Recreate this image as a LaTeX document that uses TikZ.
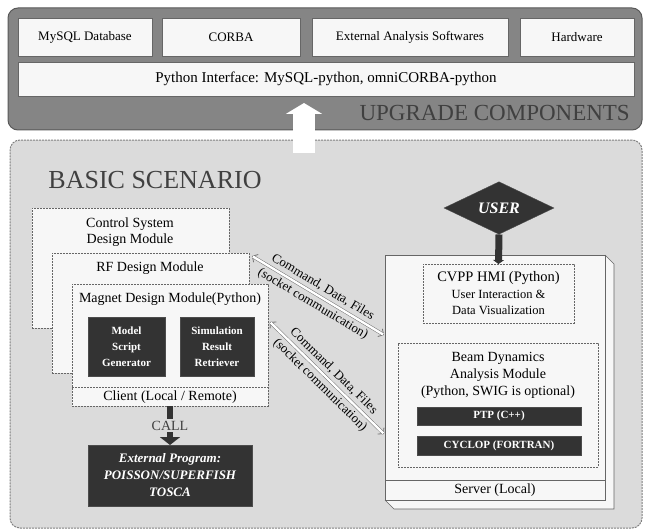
\documentclass[tikz,border=0pt]{standalone}
\usepackage{fontspec}
\setmainfont{Liberation Serif}
\usetikzlibrary{shapes.geometric,arrows.meta,calc}

\definecolor{panelDark}{gray}{0.52}
\definecolor{panelLight}{gray}{0.86}
\definecolor{boxWhite}{gray}{0.97}
\definecolor{boxDark}{gray}{0.2}

\begin{document}
\begin{tikzpicture}[x=1pt, y=-1pt,
	panel/.style={draw=black!65, line width=1pt, rounded corners=10pt, outer sep=0pt, inner sep=0pt},
	whitebox/.style={draw=black!60, line width=0.6pt, fill=boxWhite, outer sep=0pt, inner sep=2pt, align=center, font=\fontsize{13}{15}\selectfont},
	modbox/.style={whitebox, dash pattern=on 2pt off 1pt},
	darkbox/.style={fill=boxDark, draw=black!70, text=white, align=center, outer sep=0pt, inner sep=1pt, font=\bfseries\fontsize{11}{12}\selectfont},
	txt/.style={inner sep=0pt, align=center, font=\fontsize{14}{16}\selectfont},
	bigarrow/.style={draw=white, line width=22pt, -{Triangle[length=11pt, width=36pt]}},
	thickarrow/.style={draw=boxDark, line width=6pt, -{Triangle[length=8pt, width=20pt]}},
	link/.style={draw=black!55, line width=3.4pt,
		{Straight Barb[length=4pt, width=9pt, line width=0.8pt]}-{Straight Barb[length=4pt, width=9pt, line width=0.8pt]},
		postaction={draw=white, line width=2.4pt, -, shorten <=1pt, shorten >=1pt}},
	linklabel/.style={sloped, inner sep=2.5pt, font=\fontsize{13}{14}\selectfont}
]

	\useasboundingbox (0,0) rectangle (650,532);

	% upgrade components
	\node[panel, fill=panelDark, minimum width=634, minimum height=122] (upgrade) at (325,69) {};

	\node[whitebox, minimum width=134, minimum height=38] (mysql) at (85,37) {MySQL Database};
	\node[whitebox, minimum width=138, minimum height=38] (corba) at (231,37) {CORBA};
	\node[whitebox, minimum width=196, minimum height=38] (extsoft) at (410,37) {External Analysis Softwares};
	\node[whitebox, minimum width=114, minimum height=38] (hardware) at (577,37) {Hardware};
	\node[whitebox, minimum width=616, minimum height=34, font=\fontsize{15}{17}\selectfont] (pyif) at (326,79) {Python Interface: MySQL-python, omniCORBA-python};

	\node[anchor=east, inner sep=0pt, text=black!75, font=\fontsize{23}{26}\selectfont] (upgradetitle) at (630,113) {UPGRADE COMPONENTS};

	% basic scenario
	\node[panel, fill=panelLight, draw=black!50, dash pattern=on 2pt off 1pt, minimum width=632, minimum height=388] (basic) at (326,334) {};

	\node[inner sep=0pt, text=black!75, font=\fontsize{26}{28}\selectfont] (basictitle) at (155,180) {BASIC SCENARIO};

	\coordinate (upfoot) at (304,153);
	\coordinate (uptip) at (304,103);
	\draw[bigarrow] (upfoot) -- (uptip);

	% client side
	\node[modbox, minimum width=197, minimum height=120] (control) at (130.5,268) {};
	\node[txt] (controltxt) at (130,232) {Control System\\Design Module};

	\node[modbox, minimum width=197, minimum height=120] (rf) at (150.5,313) {};
	\node[txt] (rftxt) at (150,268) {RF Design Module};

	\node[modbox, minimum width=196, minimum height=122] (magnet) at (170,345) {};
	\node[txt] (magnettxt) at (170,299) {Magnet Design Module(Python)};
	\draw[draw=black!60, line width=0.6pt, dash pattern=on 2pt off 1pt] ($(magnet.south west)+(0,-19)$) -- ($(magnet.south east)+(0,-19)$);
	\node[txt] (clienttxt) at (170,397) {Client (Local / Remote)};

	\node[darkbox, minimum width=77, minimum height=59, font=\bfseries\fontsize{11}{16}\selectfont] (model) at (126.5,346.5) {Model\\Script\\Generator};
	\node[darkbox, minimum width=74, minimum height=59, font=\bfseries\fontsize{11}{16}\selectfont] (simres) at (217,346.5) {Simulation\\Result\\Retriever};

	\node[darkbox, minimum width=164, minimum height=61, font=\bfseries\itshape\fontsize{13}{17}\selectfont] (extprog) at (170,475.5) {External Program:\\POISSON/SUPERFISH\\TOSCA};

	\draw[thickarrow] (magnet.south) -- (extprog.north) node[midway, fill=panelLight, inner sep=1.5pt, text=black!75, font=\fontsize{14}{16}\selectfont] (call) {CALL};

	% server side
	\node[diamond, fill=boxDark, draw=black!70, inner sep=0pt, minimum width=110, minimum height=50, text=white, font=\bfseries\itshape\fontsize{16}{18}\selectfont] (user) at (499,208) {USER};

	\node[whitebox, minimum width=220, minimum height=245] (server) at (495,377.5) {};
	\draw[draw=black!60, line width=0.6pt, fill=boxWhite] (server.north east) -- ++(9,9) |- ($(server.south west)+(9,9)$) -- (server.south west);
	\node[whitebox, minimum width=220, minimum height=245] (serverfront) at (495,377.5) {};
	\draw[draw=black!60, line width=0.6pt] ($(serverfront.south west)+(0,-20)$) -- ($(serverfront.south east)+(0,-20)$);
	\node[txt] (servertxt) at (495,490) {Server (Local)};

	\node[modbox, minimum width=151, minimum height=59, font=\fontsize{12.5}{16.5}\selectfont] (cvpp) at (498.5,293.5) {{\fontsize{14.5}{16}\selectfont CVPP HMI (Python)}\\User Interaction \&\\Data Visualization};

	\draw[thickarrow, line width=7pt, -{Triangle[length=4pt, width=11pt]}] (user.south) -- (cvpp.north);

	\node[modbox, minimum width=200, minimum height=124] (beam) at (498,405) {};
	\node[txt, font=\fontsize{14}{17}\selectfont] (beamtxt) at (498,375) {Beam Dynamics\\Analysis Module\\(Python, SWIG is optional)};

	\node[darkbox, minimum width=164, minimum height=18] (ptp) at (499,416) {PTP (C++)};
	\node[darkbox, minimum width=164, minimum height=19] (cyclop) at (499,445.5) {CYCLOP (FORTRAN)};

	% socket links
	\coordinate (rfport) at ($(rf.north east)+(3,3)$);
	\coordinate (serverportA) at ($(server.north west)+(-1,80)$);
	\coordinate (magnetport) at ($(magnet.north east)+(2,38)$);
	\coordinate (serverportB) at ($(server.north west)+(-1,179)$);

	\draw[link] (rfport) -- (serverportA)
		node[midway, above, linklabel] {Command, Data, Files}
		node[midway, below, linklabel] {(socket communication)};
	\draw[link] (magnetport) -- (serverportB)
		node[midway, above, linklabel] {Command, Data, Files}
		node[midway, below, linklabel] {(socket communication)};

\end{tikzpicture}
\end{document}
